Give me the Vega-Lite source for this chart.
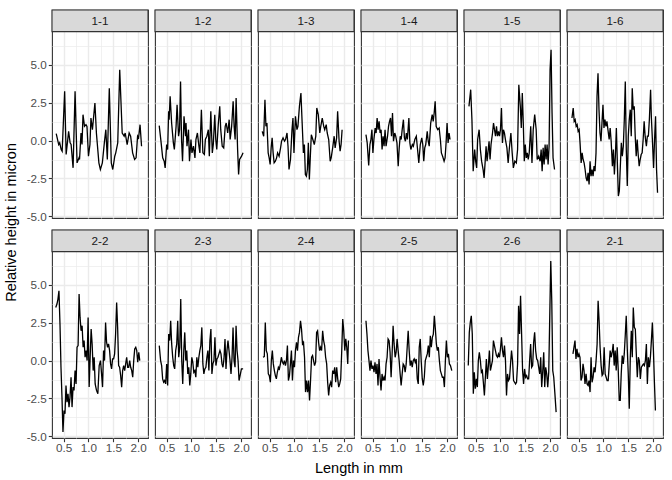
{
"$schema": "https://vega.github.io/schema/vega-lite/v6.json",
"background": "white",
"padding": {"left": 4, "top": 8, "right": 8, "bottom": 2},
"title": {"text": "Relative height in micron", "orient": "left", "anchor": "middle", "fontSize": 14.5, "fontWeight": "normal", "font": "Liberation Sans", "color": "#000000", "offset": 6, "dx": 20},
"data": {"values": [
{"p":"1-1","x":0.35,"y":0.46},{"p":"1-1","x":0.40,"y":-0.26},{"p":"1-1","x":0.42,"y":-0.15},{"p":"1-1","x":0.45,"y":-0.59},{"p":"1-1","x":0.47,"y":-0.70},{"p":"1-1","x":0.52,"y":3.25},{"p":"1-1","x":0.55,"y":-0.92},{"p":"1-1","x":0.60,"y":0.61},{"p":"1-1","x":0.63,"y":-0.15},{"p":"1-1","x":0.65,"y":-0.26},{"p":"1-1","x":0.69,"y":-1.80},{"p":"1-1","x":0.73,"y":3.25},{"p":"1-1","x":0.77,"y":-1.47},{"p":"1-1","x":0.81,"y":-1.14},{"p":"1-1","x":0.82,"y":-1.25},{"p":"1-1","x":0.85,"y":0.50},{"p":"1-1","x":0.87,"y":-0.26},{"p":"1-1","x":0.89,"y":1.71},{"p":"1-1","x":0.92,"y":0.94},{"p":"1-1","x":0.95,"y":1.05},{"p":"1-1","x":0.97,"y":0.94},{"p":"1-1","x":1.00,"y":-1.03},{"p":"1-1","x":1.03,"y":-0.26},{"p":"1-1","x":1.05,"y":1.49},{"p":"1-1","x":1.08,"y":0.72},{"p":"1-1","x":1.13,"y":2.48},{"p":"1-1","x":1.16,"y":0.50},{"p":"1-1","x":1.21,"y":-1.47},{"p":"1-1","x":1.24,"y":-1.91},{"p":"1-1","x":1.28,"y":-1.47},{"p":"1-1","x":1.32,"y":-0.15},{"p":"1-1","x":1.35,"y":0.72},{"p":"1-1","x":1.38,"y":-1.25},{"p":"1-1","x":1.42,"y":3.46},{"p":"1-1","x":1.46,"y":-1.47},{"p":"1-1","x":1.49,"y":-1.91},{"p":"1-1","x":1.53,"y":-1.03},{"p":"1-1","x":1.55,"y":-0.81},{"p":"1-1","x":1.59,"y":-0.15},{"p":"1-1","x":1.63,"y":4.67},{"p":"1-1","x":1.68,"y":0.50},{"p":"1-1","x":1.72,"y":0.29},{"p":"1-1","x":1.74,"y":0.50},{"p":"1-1","x":1.78,"y":-0.26},{"p":"1-1","x":1.82,"y":0.50},{"p":"1-1","x":1.85,"y":0.29},{"p":"1-1","x":1.89,"y":-0.81},{"p":"1-1","x":1.93,"y":-1.25},{"p":"1-1","x":1.96,"y":-1.14},{"p":"1-1","x":1.99,"y":0.29},{"p":"1-1","x":2.01,"y":0.18},{"p":"1-1","x":2.04,"y":1.05},{"p":"1-1","x":2.07,"y":-0.37},
{"p":"1-2","x":0.35,"y":0.99},{"p":"1-2","x":0.385,"y":-0.04},{"p":"1-2","x":0.42,"y":-1.14},{"p":"1-2","x":0.45,"y":-1.36},{"p":"1-2","x":0.47,"y":-1.80},{"p":"1-2","x":0.50,"y":-0.26},{"p":"1-2","x":0.52,"y":-0.59},{"p":"1-2","x":0.54,"y":1.93},{"p":"1-2","x":0.55,"y":1.38},{"p":"1-2","x":0.57,"y":2.92},{"p":"1-2","x":0.60,"y":1.16},{"p":"1-2","x":0.635,"y":-0.15},{"p":"1-2","x":0.655,"y":-0.59},{"p":"1-2","x":0.69,"y":0.94},{"p":"1-2","x":0.71,"y":2.37},{"p":"1-2","x":0.74,"y":0.29},{"p":"1-2","x":0.76,"y":0.72},{"p":"1-2","x":0.78,"y":3.90},{"p":"1-2","x":0.80,"y":0.07},{"p":"1-2","x":0.82,"y":-1.36},{"p":"1-2","x":0.85,"y":1.60},{"p":"1-2","x":0.88,"y":0.29},{"p":"1-2","x":0.89,"y":1.16},{"p":"1-2","x":0.91,"y":-0.37},{"p":"1-2","x":0.94,"y":0.72},{"p":"1-2","x":0.96,"y":-1.36},{"p":"1-2","x":0.99,"y":0.07},{"p":"1-2","x":1.01,"y":-0.81},{"p":"1-2","x":1.04,"y":-0.37},{"p":"1-2","x":1.07,"y":-1.14},{"p":"1-2","x":1.09,"y":0.07},{"p":"1-2","x":1.12,"y":0.50},{"p":"1-2","x":1.15,"y":-0.37},{"p":"1-2","x":1.17,"y":-0.81},{"p":"1-2","x":1.20,"y":2.04},{"p":"1-2","x":1.23,"y":-0.81},{"p":"1-2","x":1.26,"y":-0.92},{"p":"1-2","x":1.28,"y":0.07},{"p":"1-2","x":1.31,"y":0.29},{"p":"1-2","x":1.34,"y":0.72},{"p":"1-2","x":1.36,"y":-1.03},{"p":"1-2","x":1.39,"y":1.93},{"p":"1-2","x":1.42,"y":-0.81},{"p":"1-2","x":1.44,"y":-0.26},{"p":"1-2","x":1.47,"y":1.71},{"p":"1-2","x":1.49,"y":0.07},{"p":"1-2","x":1.51,"y":-0.59},{"p":"1-2","x":1.54,"y":1.05},{"p":"1-2","x":1.57,"y":2.26},{"p":"1-2","x":1.59,"y":0.72},{"p":"1-2","x":1.62,"y":-0.37},{"p":"1-2","x":1.65,"y":-0.48},{"p":"1-2","x":1.68,"y":0.94},{"p":"1-2","x":1.70,"y":1.16},{"p":"1-2","x":1.73,"y":0.50},{"p":"1-2","x":1.76,"y":1.38},{"p":"1-2","x":1.78,"y":0.07},{"p":"1-2","x":1.81,"y":0.94},{"p":"1-2","x":1.84,"y":2.59},{"p":"1-2","x":1.86,"y":0.94},{"p":"1-2","x":1.88,"y":0.07},{"p":"1-2","x":1.90,"y":2.81},{"p":"1-2","x":1.93,"y":-0.59},{"p":"1-2","x":1.95,"y":-2.24},{"p":"1-2","x":1.97,"y":-1.25},{"p":"1-2","x":2.01,"y":-1.03},{"p":"1-2","x":2.04,"y":-0.81},
{"p":"1-3","x":0.35,"y":0.61},{"p":"1-3","x":0.38,"y":0.29},{"p":"1-3","x":0.405,"y":2.70},{"p":"1-3","x":0.425,"y":0.94},{"p":"1-3","x":0.445,"y":1.16},{"p":"1-3","x":0.47,"y":-0.81},{"p":"1-3","x":0.49,"y":-1.14},{"p":"1-3","x":0.51,"y":-1.58},{"p":"1-3","x":0.53,"y":-0.48},{"p":"1-3","x":0.55,"y":0.18},{"p":"1-3","x":0.57,"y":-0.81},{"p":"1-3","x":0.59,"y":-1.47},{"p":"1-3","x":0.615,"y":-1.36},{"p":"1-3","x":0.64,"y":-1.14},{"p":"1-3","x":0.66,"y":-0.81},{"p":"1-3","x":0.69,"y":-1.03},{"p":"1-3","x":0.72,"y":-0.48},{"p":"1-3","x":0.74,"y":-0.04},{"p":"1-3","x":0.77,"y":0.18},{"p":"1-3","x":0.80,"y":-0.04},{"p":"1-3","x":0.82,"y":0.07},{"p":"1-3","x":0.85,"y":0.50},{"p":"1-3","x":0.87,"y":-0.37},{"p":"1-3","x":0.89,"y":-1.91},{"p":"1-3","x":0.92,"y":-1.25},{"p":"1-3","x":0.95,"y":0.72},{"p":"1-3","x":0.97,"y":1.49},{"p":"1-3","x":0.99,"y":-0.81},{"p":"1-3","x":1.02,"y":1.60},{"p":"1-3","x":1.05,"y":0.72},{"p":"1-3","x":1.07,"y":0.94},{"p":"1-3","x":1.10,"y":2.26},{"p":"1-3","x":1.13,"y":3.14},{"p":"1-3","x":1.155,"y":1.16},{"p":"1-3","x":1.18,"y":-0.81},{"p":"1-3","x":1.20,"y":-0.26},{"p":"1-3","x":1.22,"y":-2.24},{"p":"1-3","x":1.24,"y":-2.35},{"p":"1-3","x":1.26,"y":-1.91},{"p":"1-3","x":1.28,"y":-0.15},{"p":"1-3","x":1.30,"y":-2.57},{"p":"1-3","x":1.32,"y":-1.03},{"p":"1-3","x":1.34,"y":0.39},{"p":"1-3","x":1.37,"y":0.07},{"p":"1-3","x":1.40,"y":-0.26},{"p":"1-3","x":1.43,"y":0.29},{"p":"1-3","x":1.45,"y":2.15},{"p":"1-3","x":1.48,"y":1.71},{"p":"1-3","x":1.51,"y":0.50},{"p":"1-3","x":1.53,"y":0.94},{"p":"1-3","x":1.56,"y":1.49},{"p":"1-3","x":1.59,"y":0.94},{"p":"1-3","x":1.61,"y":0.72},{"p":"1-3","x":1.64,"y":1.05},{"p":"1-3","x":1.66,"y":0.50},{"p":"1-3","x":1.69,"y":0.07},{"p":"1-3","x":1.72,"y":-1.36},{"p":"1-3","x":1.74,"y":-1.14},{"p":"1-3","x":1.77,"y":-0.48},{"p":"1-3","x":1.80,"y":0.29},{"p":"1-3","x":1.82,"y":-0.48},{"p":"1-3","x":1.85,"y":0.18},{"p":"1-3","x":1.87,"y":1.93},{"p":"1-3","x":1.90,"y":-0.04},{"p":"1-3","x":1.92,"y":-0.70},{"p":"1-3","x":1.94,"y":-0.26},{"p":"1-3","x":1.96,"y":0.72},
{"p":"1-4","x":0.365,"y":0.39},{"p":"1-4","x":0.39,"y":-0.15},{"p":"1-4","x":0.42,"y":-1.64},{"p":"1-4","x":0.445,"y":-0.26},{"p":"1-4","x":0.465,"y":0.07},{"p":"1-4","x":0.485,"y":0.72},{"p":"1-4","x":0.505,"y":-0.81},{"p":"1-4","x":0.525,"y":0.07},{"p":"1-4","x":0.55,"y":0.83},{"p":"1-4","x":0.57,"y":0.50},{"p":"1-4","x":0.59,"y":1.49},{"p":"1-4","x":0.61,"y":0.72},{"p":"1-4","x":0.63,"y":1.27},{"p":"1-4","x":0.65,"y":0.50},{"p":"1-4","x":0.67,"y":0.72},{"p":"1-4","x":0.69,"y":-0.59},{"p":"1-4","x":0.71,"y":0.29},{"p":"1-4","x":0.73,"y":-0.37},{"p":"1-4","x":0.75,"y":0.72},{"p":"1-4","x":0.77,"y":-0.37},{"p":"1-4","x":0.80,"y":0.29},{"p":"1-4","x":0.82,"y":0.94},{"p":"1-4","x":0.84,"y":1.27},{"p":"1-4","x":0.86,"y":1.49},{"p":"1-4","x":0.88,"y":0.29},{"p":"1-4","x":0.90,"y":1.82},{"p":"1-4","x":0.92,"y":-0.04},{"p":"1-4","x":0.945,"y":0.50},{"p":"1-4","x":0.965,"y":0.29},{"p":"1-4","x":0.99,"y":-0.15},{"p":"1-4","x":1.015,"y":-1.69},{"p":"1-4","x":1.035,"y":-0.48},{"p":"1-4","x":1.055,"y":0.29},{"p":"1-4","x":1.075,"y":0.07},{"p":"1-4","x":1.095,"y":0.72},{"p":"1-4","x":1.12,"y":1.38},{"p":"1-4","x":1.14,"y":0.18},{"p":"1-4","x":1.16,"y":-0.04},{"p":"1-4","x":1.18,"y":0.50},{"p":"1-4","x":1.20,"y":0.07},{"p":"1-4","x":1.23,"y":1.49},{"p":"1-4","x":1.25,"y":-0.15},{"p":"1-4","x":1.27,"y":-0.59},{"p":"1-4","x":1.30,"y":-0.26},{"p":"1-4","x":1.32,"y":-0.37},{"p":"1-4","x":1.35,"y":0.07},{"p":"1-4","x":1.38,"y":0.29},{"p":"1-4","x":1.405,"y":-0.59},{"p":"1-4","x":1.43,"y":-1.47},{"p":"1-4","x":1.46,"y":-0.26},{"p":"1-4","x":1.49,"y":0.18},{"p":"1-4","x":1.51,"y":-0.26},{"p":"1-4","x":1.53,"y":-1.36},{"p":"1-4","x":1.55,"y":-0.48},{"p":"1-4","x":1.57,"y":-0.26},{"p":"1-4","x":1.60,"y":0.61},{"p":"1-4","x":1.62,"y":-0.04},{"p":"1-4","x":1.64,"y":-0.37},{"p":"1-4","x":1.67,"y":1.16},{"p":"1-4","x":1.70,"y":1.71},{"p":"1-4","x":1.72,"y":1.27},{"p":"1-4","x":1.74,"y":1.82},{"p":"1-4","x":1.76,"y":2.59},{"p":"1-4","x":1.78,"y":0.94},{"p":"1-4","x":1.81,"y":0.72},{"p":"1-4","x":1.84,"y":0.83},{"p":"1-4","x":1.865,"y":0.07},{"p":"1-4","x":1.885,"y":-0.81},{"p":"1-4","x":1.91,"y":-1.03},{"p":"1-4","x":1.94,"y":-1.36},{"p":"1-4","x":1.96,"y":-1.14},{"p":"1-4","x":1.98,"y":-0.15},{"p":"1-4","x":2.00,"y":1.16},{"p":"1-4","x":2.02,"y":-0.15},{"p":"1-4","x":2.04,"y":0.50},{"p":"1-4","x":2.06,"y":0.07},
{"p":"1-5","x":0.365,"y":2.26},{"p":"1-5","x":0.40,"y":3.36},{"p":"1-5","x":0.425,"y":1.38},{"p":"1-5","x":0.45,"y":-2.02},{"p":"1-5","x":0.48,"y":-0.59},{"p":"1-5","x":0.50,"y":-1.36},{"p":"1-5","x":0.52,"y":-1.80},{"p":"1-5","x":0.54,"y":0.07},{"p":"1-5","x":0.57,"y":0.72},{"p":"1-5","x":0.595,"y":-0.59},{"p":"1-5","x":0.62,"y":-1.36},{"p":"1-5","x":0.65,"y":-1.91},{"p":"1-5","x":0.67,"y":-2.46},{"p":"1-5","x":0.69,"y":-1.47},{"p":"1-5","x":0.71,"y":-0.37},{"p":"1-5","x":0.73,"y":-1.36},{"p":"1-5","x":0.75,"y":-0.70},{"p":"1-5","x":0.77,"y":-0.04},{"p":"1-5","x":0.79,"y":-1.25},{"p":"1-5","x":0.81,"y":-0.26},{"p":"1-5","x":0.84,"y":0.50},{"p":"1-5","x":0.86,"y":1.16},{"p":"1-5","x":0.88,"y":0.72},{"p":"1-5","x":0.90,"y":0.29},{"p":"1-5","x":0.92,"y":0.94},{"p":"1-5","x":0.94,"y":0.29},{"p":"1-5","x":0.96,"y":0.61},{"p":"1-5","x":0.98,"y":0.29},{"p":"1-5","x":1.00,"y":0.72},{"p":"1-5","x":1.02,"y":2.15},{"p":"1-5","x":1.04,"y":-0.15},{"p":"1-5","x":1.06,"y":0.72},{"p":"1-5","x":1.08,"y":0.50},{"p":"1-5","x":1.10,"y":0.07},{"p":"1-5","x":1.13,"y":-0.48},{"p":"1-5","x":1.155,"y":-1.47},{"p":"1-5","x":1.18,"y":-0.48},{"p":"1-5","x":1.21,"y":0.50},{"p":"1-5","x":1.236,"y":-0.81},{"p":"1-5","x":1.26,"y":-1.80},{"p":"1-5","x":1.29,"y":-1.36},{"p":"1-5","x":1.32,"y":-1.47},{"p":"1-5","x":1.345,"y":-0.59},{"p":"1-5","x":1.37,"y":3.68},{"p":"1-5","x":1.40,"y":2.26},{"p":"1-5","x":1.42,"y":0.83},{"p":"1-5","x":1.44,"y":3.14},{"p":"1-5","x":1.46,"y":1.16},{"p":"1-5","x":1.48,"y":-1.36},{"p":"1-5","x":1.50,"y":-0.26},{"p":"1-5","x":1.52,"y":-1.14},{"p":"1-5","x":1.54,"y":-0.81},{"p":"1-5","x":1.56,"y":-1.25},{"p":"1-5","x":1.58,"y":-0.81},{"p":"1-5","x":1.61,"y":0.94},{"p":"1-5","x":1.635,"y":-1.47},{"p":"1-5","x":1.66,"y":0.72},{"p":"1-5","x":1.69,"y":1.71},{"p":"1-5","x":1.72,"y":0.72},{"p":"1-5","x":1.74,"y":-1.25},{"p":"1-5","x":1.77,"y":-1.03},{"p":"1-5","x":1.80,"y":-1.36},{"p":"1-5","x":1.82,"y":-0.59},{"p":"1-5","x":1.84,"y":-2.02},{"p":"1-5","x":1.86,"y":-0.48},{"p":"1-5","x":1.88,"y":-1.58},{"p":"1-5","x":1.90,"y":-0.26},{"p":"1-5","x":1.92,"y":-1.25},{"p":"1-5","x":1.94,"y":-0.26},{"p":"1-5","x":1.96,"y":-1.58},{"p":"1-5","x":1.98,"y":-0.37},{"p":"1-5","x":2.00,"y":4.67},{"p":"1-5","x":2.02,"y":5.99},{"p":"1-5","x":2.04,"y":1.82},{"p":"1-5","x":2.06,"y":-1.14},{"p":"1-5","x":2.09,"y":-1.91},
{"p":"1-6","x":0.365,"y":1.49},{"p":"1-6","x":0.39,"y":2.15},{"p":"1-6","x":0.41,"y":1.27},{"p":"1-6","x":0.43,"y":1.38},{"p":"1-6","x":0.45,"y":0.94},{"p":"1-6","x":0.47,"y":1.05},{"p":"1-6","x":0.49,"y":0.61},{"p":"1-6","x":0.51,"y":0.72},{"p":"1-6","x":0.53,"y":-0.26},{"p":"1-6","x":0.55,"y":-1.47},{"p":"1-6","x":0.57,"y":-0.81},{"p":"1-6","x":0.59,"y":-1.25},{"p":"1-6","x":0.61,"y":-1.47},{"p":"1-6","x":0.63,"y":-1.91},{"p":"1-6","x":0.65,"y":-2.46},{"p":"1-6","x":0.67,"y":-2.68},{"p":"1-6","x":0.69,"y":-2.13},{"p":"1-6","x":0.71,"y":-2.89},{"p":"1-6","x":0.73,"y":-1.36},{"p":"1-6","x":0.75,"y":-2.35},{"p":"1-6","x":0.77,"y":-1.91},{"p":"1-6","x":0.79,"y":-2.35},{"p":"1-6","x":0.81,"y":-1.69},{"p":"1-6","x":0.83,"y":-2.02},{"p":"1-6","x":0.85,"y":-0.81},{"p":"1-6","x":0.87,"y":2.92},{"p":"1-6","x":0.89,"y":4.45},{"p":"1-6","x":0.91,"y":2.04},{"p":"1-6","x":0.93,"y":0.50},{"p":"1-6","x":0.95,"y":-0.04},{"p":"1-6","x":0.97,"y":1.16},{"p":"1-6","x":0.99,"y":2.37},{"p":"1-6","x":1.01,"y":0.83},{"p":"1-6","x":1.03,"y":1.38},{"p":"1-6","x":1.05,"y":0.94},{"p":"1-6","x":1.07,"y":1.27},{"p":"1-6","x":1.09,"y":0.72},{"p":"1-6","x":1.115,"y":0.07},{"p":"1-6","x":1.135,"y":0.83},{"p":"1-6","x":1.155,"y":-0.04},{"p":"1-6","x":1.18,"y":-1.69},{"p":"1-6","x":1.20,"y":-0.59},{"p":"1-6","x":1.22,"y":-2.24},{"p":"1-6","x":1.24,"y":-1.03},{"p":"1-6","x":1.26,"y":0.83},{"p":"1-6","x":1.28,"y":-1.47},{"p":"1-6","x":1.30,"y":-3.66},{"p":"1-6","x":1.32,"y":-3.33},{"p":"1-6","x":1.34,"y":-1.69},{"p":"1-6","x":1.36,"y":-0.15},{"p":"1-6","x":1.38,"y":-1.03},{"p":"1-6","x":1.40,"y":-0.37},{"p":"1-6","x":1.42,"y":1.38},{"p":"1-6","x":1.44,"y":3.90},{"p":"1-6","x":1.46,"y":-0.59},{"p":"1-6","x":1.48,"y":-3.00},{"p":"1-6","x":1.50,"y":0.29},{"p":"1-6","x":1.52,"y":1.38},{"p":"1-6","x":1.54,"y":2.04},{"p":"1-6","x":1.56,"y":0.29},{"p":"1-6","x":1.58,"y":3.46},{"p":"1-6","x":1.60,"y":2.04},{"p":"1-6","x":1.62,"y":2.26},{"p":"1-6","x":1.64,"y":0.29},{"p":"1-6","x":1.66,"y":-1.03},{"p":"1-6","x":1.68,"y":0.07},{"p":"1-6","x":1.70,"y":-0.92},{"p":"1-6","x":1.72,"y":-1.69},{"p":"1-6","x":1.74,"y":-1.25},{"p":"1-6","x":1.76,"y":-0.92},{"p":"1-6","x":1.78,"y":-0.81},{"p":"1-6","x":1.80,"y":0.07},{"p":"1-6","x":1.82,"y":1.27},{"p":"1-6","x":1.84,"y":0.29},{"p":"1-6","x":1.865,"y":-0.37},{"p":"1-6","x":1.885,"y":0.29},{"p":"1-6","x":1.905,"y":0.29},{"p":"1-6","x":1.925,"y":1.38},{"p":"1-6","x":1.95,"y":3.36},{"p":"1-6","x":1.966,"y":1.49},{"p":"1-6","x":1.986,"y":0.07},{"p":"1-6","x":2.01,"y":-1.80},{"p":"1-6","x":2.03,"y":0.07},{"p":"1-6","x":2.05,"y":1.60},{"p":"1-6","x":2.07,"y":-1.91},{"p":"1-6","x":2.09,"y":-3.44},
{"p":"2-2","x":0.34,"y":3.51},{"p":"2-2","x":0.365,"y":3.73},{"p":"2-2","x":0.385,"y":4.06},{"p":"2-2","x":0.405,"y":4.61},{"p":"2-2","x":0.426,"y":2.41},{"p":"2-2","x":0.446,"y":-0.44},{"p":"2-2","x":0.466,"y":-2.41},{"p":"2-2","x":0.486,"y":-4.71},{"p":"2-2","x":0.507,"y":-3.29},{"p":"2-2","x":0.527,"y":-3.51},{"p":"2-2","x":0.547,"y":-1.64},{"p":"2-2","x":0.568,"y":-2.74},{"p":"2-2","x":0.588,"y":-2.19},{"p":"2-2","x":0.608,"y":-3.07},{"p":"2-2","x":0.628,"y":-2.41},{"p":"2-2","x":0.649,"y":-1.10},{"p":"2-2","x":0.669,"y":-3.07},{"p":"2-2","x":0.689,"y":-1.75},{"p":"2-2","x":0.709,"y":-1.97},{"p":"2-2","x":0.73,"y":-0.66},{"p":"2-2","x":0.75,"y":-1.54},{"p":"2-2","x":0.77,"y":0.88},{"p":"2-2","x":0.791,"y":0.99},{"p":"2-2","x":0.811,"y":4.39},{"p":"2-2","x":0.831,"y":2.85},{"p":"2-2","x":0.851,"y":1.97},{"p":"2-2","x":0.872,"y":2.30},{"p":"2-2","x":0.892,"y":0.88},{"p":"2-2","x":0.912,"y":1.32},{"p":"2-2","x":0.932,"y":0.22},{"p":"2-2","x":0.953,"y":0.66},{"p":"2-2","x":0.973,"y":0.00},{"p":"2-2","x":0.993,"y":2.85},{"p":"2-2","x":1.014,"y":-1.75},{"p":"2-2","x":1.034,"y":0.22},{"p":"2-2","x":1.054,"y":2.08},{"p":"2-2","x":1.074,"y":1.10},{"p":"2-2","x":1.095,"y":-0.66},{"p":"2-2","x":1.115,"y":0.22},{"p":"2-2","x":1.135,"y":-1.54},{"p":"2-2","x":1.162,"y":-1.97},{"p":"2-2","x":1.189,"y":-2.19},{"p":"2-2","x":1.216,"y":-0.33},{"p":"2-2","x":1.243,"y":0.00},{"p":"2-2","x":1.264,"y":-0.88},{"p":"2-2","x":1.284,"y":-1.75},{"p":"2-2","x":1.304,"y":0.66},{"p":"2-2","x":1.324,"y":0.00},{"p":"2-2","x":1.345,"y":2.52},{"p":"2-2","x":1.365,"y":1.21},{"p":"2-2","x":1.385,"y":0.88},{"p":"2-2","x":1.405,"y":1.10},{"p":"2-2","x":1.426,"y":0.66},{"p":"2-2","x":1.446,"y":-0.22},{"p":"2-2","x":1.466,"y":-0.55},{"p":"2-2","x":1.486,"y":0.11},{"p":"2-2","x":1.507,"y":0.11},{"p":"2-2","x":1.527,"y":0.44},{"p":"2-2","x":1.547,"y":1.75},{"p":"2-2","x":1.568,"y":3.84},{"p":"2-2","x":1.588,"y":2.19},{"p":"2-2","x":1.608,"y":-0.33},{"p":"2-2","x":1.628,"y":-0.44},{"p":"2-2","x":1.649,"y":-0.99},{"p":"2-2","x":1.669,"y":-1.75},{"p":"2-2","x":1.689,"y":-0.66},{"p":"2-2","x":1.709,"y":-0.33},{"p":"2-2","x":1.730,"y":-0.66},{"p":"2-2","x":1.750,"y":-0.22},{"p":"2-2","x":1.770,"y":0.22},{"p":"2-2","x":1.791,"y":-0.44},{"p":"2-2","x":1.811,"y":-0.44},{"p":"2-2","x":1.831,"y":0.00},{"p":"2-2","x":1.851,"y":-0.44},{"p":"2-2","x":1.872,"y":-0.66},{"p":"2-2","x":1.892,"y":-1.10},{"p":"2-2","x":1.912,"y":0.00},{"p":"2-2","x":1.932,"y":0.77},{"p":"2-2","x":1.953,"y":0.88},{"p":"2-2","x":1.973,"y":0.66},{"p":"2-2","x":1.993,"y":-0.11},{"p":"2-2","x":2.014,"y":0.55},{"p":"2-2","x":2.034,"y":0.00},
{"p":"2-3","x":0.351,"y":0.99},{"p":"2-3","x":0.378,"y":0.00},{"p":"2-3","x":0.399,"y":-0.33},{"p":"2-3","x":0.419,"y":-1.21},{"p":"2-3","x":0.439,"y":-1.43},{"p":"2-3","x":0.459,"y":-1.32},{"p":"2-3","x":0.48,"y":-1.54},{"p":"2-3","x":0.5,"y":-0.22},{"p":"2-3","x":0.52,"y":-1.64},{"p":"2-3","x":0.541,"y":1.75},{"p":"2-3","x":0.561,"y":1.32},{"p":"2-3","x":0.581,"y":2.63},{"p":"2-3","x":0.601,"y":1.10},{"p":"2-3","x":0.622,"y":0.22},{"p":"2-3","x":0.642,"y":-0.33},{"p":"2-3","x":0.662,"y":-0.55},{"p":"2-3","x":0.682,"y":0.66},{"p":"2-3","x":0.703,"y":1.10},{"p":"2-3","x":0.723,"y":2.63},{"p":"2-3","x":0.743,"y":0.22},{"p":"2-3","x":0.764,"y":0.88},{"p":"2-3","x":0.784,"y":4.06},{"p":"2-3","x":0.804,"y":0.00},{"p":"2-3","x":0.824,"y":-1.54},{"p":"2-3","x":0.845,"y":0.66},{"p":"2-3","x":0.865,"y":1.86},{"p":"2-3","x":0.885,"y":0.00},{"p":"2-3","x":0.905,"y":0.66},{"p":"2-3","x":0.926,"y":-0.88},{"p":"2-3","x":0.946,"y":-0.44},{"p":"2-3","x":0.966,"y":-1.64},{"p":"2-3","x":0.986,"y":-0.88},{"p":"2-3","x":1.007,"y":0.22},{"p":"2-3","x":1.027,"y":-0.11},{"p":"2-3","x":1.047,"y":-0.77},{"p":"2-3","x":1.068,"y":-0.66},{"p":"2-3","x":1.088,"y":-1.10},{"p":"2-3","x":1.108,"y":0.22},{"p":"2-3","x":1.128,"y":-0.44},{"p":"2-3","x":1.149,"y":0.22},{"p":"2-3","x":1.169,"y":0.66},{"p":"2-3","x":1.189,"y":0.99},{"p":"2-3","x":1.209,"y":2.19},{"p":"2-3","x":1.23,"y":-0.22},{"p":"2-3","x":1.25,"y":-0.88},{"p":"2-3","x":1.27,"y":-0.55},{"p":"2-3","x":1.291,"y":-0.44},{"p":"2-3","x":1.311,"y":0.22},{"p":"2-3","x":1.331,"y":0.66},{"p":"2-3","x":1.351,"y":-0.66},{"p":"2-3","x":1.372,"y":1.32},{"p":"2-3","x":1.392,"y":2.08},{"p":"2-3","x":1.412,"y":-0.88},{"p":"2-3","x":1.432,"y":-0.22},{"p":"2-3","x":1.453,"y":0.00},{"p":"2-3","x":1.473,"y":1.54},{"p":"2-3","x":1.493,"y":-0.33},{"p":"2-3","x":1.514,"y":0.11},{"p":"2-3","x":1.534,"y":0.22},{"p":"2-3","x":1.554,"y":0.44},{"p":"2-3","x":1.574,"y":0.66},{"p":"2-3","x":1.595,"y":0.44},{"p":"2-3","x":1.615,"y":-0.22},{"p":"2-3","x":1.635,"y":-0.44},{"p":"2-3","x":1.655,"y":0.11},{"p":"2-3","x":1.676,"y":1.43},{"p":"2-3","x":1.696,"y":-0.55},{"p":"2-3","x":1.716,"y":0.66},{"p":"2-3","x":1.736,"y":1.32},{"p":"2-3","x":1.757,"y":0.66},{"p":"2-3","x":1.777,"y":0.00},{"p":"2-3","x":1.797,"y":-0.88},{"p":"2-3","x":1.818,"y":0.22},{"p":"2-3","x":1.838,"y":2.19},{"p":"2-3","x":1.858,"y":0.00},{"p":"2-3","x":1.878,"y":-0.44},{"p":"2-3","x":1.899,"y":2.30},{"p":"2-3","x":1.919,"y":0.66},{"p":"2-3","x":1.939,"y":0.00},{"p":"2-3","x":1.959,"y":-1.32},{"p":"2-3","x":1.98,"y":-0.99},{"p":"2-3","x":2.007,"y":-0.55},{"p":"2-3","x":2.041,"y":-0.55},
{"p":"2-4","x":0.365,"y":0.22},{"p":"2-4","x":0.392,"y":0.26},{"p":"2-4","x":0.412,"y":2.52},{"p":"2-4","x":0.432,"y":0.66},{"p":"2-4","x":0.453,"y":0.44},{"p":"2-4","x":0.473,"y":-0.88},{"p":"2-4","x":0.493,"y":-0.99},{"p":"2-4","x":0.514,"y":-1.43},{"p":"2-4","x":0.534,"y":0.00},{"p":"2-4","x":0.554,"y":0.66},{"p":"2-4","x":0.574,"y":-0.22},{"p":"2-4","x":0.595,"y":-0.66},{"p":"2-4","x":0.615,"y":-0.99},{"p":"2-4","x":0.635,"y":-1.21},{"p":"2-4","x":0.655,"y":-0.77},{"p":"2-4","x":0.676,"y":-0.44},{"p":"2-4","x":0.696,"y":-0.55},{"p":"2-4","x":0.716,"y":-0.22},{"p":"2-4","x":0.736,"y":0.22},{"p":"2-4","x":0.757,"y":-0.11},{"p":"2-4","x":0.777,"y":-0.22},{"p":"2-4","x":0.797,"y":0.00},{"p":"2-4","x":0.818,"y":-0.33},{"p":"2-4","x":0.838,"y":0.00},{"p":"2-4","x":0.858,"y":0.99},{"p":"2-4","x":0.878,"y":-1.32},{"p":"2-4","x":0.899,"y":-0.99},{"p":"2-4","x":0.919,"y":-0.22},{"p":"2-4","x":0.939,"y":0.66},{"p":"2-4","x":0.959,"y":-1.32},{"p":"2-4","x":0.98,"y":0.00},{"p":"2-4","x":1.0,"y":-0.44},{"p":"2-4","x":1.02,"y":0.66},{"p":"2-4","x":1.041,"y":1.21},{"p":"2-4","x":1.061,"y":0.66},{"p":"2-4","x":1.081,"y":1.54},{"p":"2-4","x":1.101,"y":1.86},{"p":"2-4","x":1.122,"y":2.63},{"p":"2-4","x":1.142,"y":2.08},{"p":"2-4","x":1.162,"y":1.10},{"p":"2-4","x":1.182,"y":1.21},{"p":"2-4","x":1.203,"y":0.22},{"p":"2-4","x":1.223,"y":-2.08},{"p":"2-4","x":1.243,"y":-1.32},{"p":"2-4","x":1.264,"y":-2.08},{"p":"2-4","x":1.284,"y":-1.32},{"p":"2-4","x":1.304,"y":-2.63},{"p":"2-4","x":1.324,"y":-1.32},{"p":"2-4","x":1.345,"y":0.22},{"p":"2-4","x":1.365,"y":0.33},{"p":"2-4","x":1.385,"y":0.00},{"p":"2-4","x":1.405,"y":-0.33},{"p":"2-4","x":1.426,"y":-0.11},{"p":"2-4","x":1.446,"y":1.86},{"p":"2-4","x":1.466,"y":1.97},{"p":"2-4","x":1.486,"y":1.21},{"p":"2-4","x":1.507,"y":0.66},{"p":"2-4","x":1.527,"y":0.88},{"p":"2-4","x":1.547,"y":0.66},{"p":"2-4","x":1.568,"y":1.97},{"p":"2-4","x":1.588,"y":1.32},{"p":"2-4","x":1.608,"y":0.99},{"p":"2-4","x":1.628,"y":0.22},{"p":"2-4","x":1.649,"y":-0.22},{"p":"2-4","x":1.669,"y":-1.43},{"p":"2-4","x":1.689,"y":-2.30},{"p":"2-4","x":1.709,"y":-1.64},{"p":"2-4","x":1.73,"y":-1.43},{"p":"2-4","x":1.75,"y":-1.75},{"p":"2-4","x":1.77,"y":-0.66},{"p":"2-4","x":1.791,"y":-0.88},{"p":"2-4","x":1.811,"y":-0.44},{"p":"2-4","x":1.831,"y":-1.43},{"p":"2-4","x":1.851,"y":-0.44},{"p":"2-4","x":1.872,"y":-1.21},{"p":"2-4","x":1.892,"y":-1.75},{"p":"2-4","x":1.912,"y":-1.54},{"p":"2-4","x":1.932,"y":-1.21},{"p":"2-4","x":1.953,"y":0.66},{"p":"2-4","x":1.973,"y":2.74},{"p":"2-4","x":1.993,"y":1.97},{"p":"2-4","x":2.014,"y":0.66},{"p":"2-4","x":2.034,"y":1.43},{"p":"2-4","x":2.054,"y":0.88},{"p":"2-4","x":2.074,"y":-0.22},{"p":"2-4","x":2.088,"y":1.32},
{"p":"2-5","x":0.365,"y":2.63},{"p":"2-5","x":0.385,"y":1.75},{"p":"2-5","x":0.405,"y":0.66},{"p":"2-5","x":0.426,"y":0.00},{"p":"2-5","x":0.446,"y":-0.66},{"p":"2-5","x":0.466,"y":0.00},{"p":"2-5","x":0.486,"y":-0.55},{"p":"2-5","x":0.507,"y":-0.33},{"p":"2-5","x":0.527,"y":-0.77},{"p":"2-5","x":0.547,"y":-0.11},{"p":"2-5","x":0.568,"y":-0.88},{"p":"2-5","x":0.588,"y":-0.22},{"p":"2-5","x":0.608,"y":-1.64},{"p":"2-5","x":0.628,"y":0.11},{"p":"2-5","x":0.649,"y":-1.10},{"p":"2-5","x":0.669,"y":-1.97},{"p":"2-5","x":0.689,"y":-0.88},{"p":"2-5","x":0.709,"y":-1.32},{"p":"2-5","x":0.73,"y":-1.10},{"p":"2-5","x":0.75,"y":-1.32},{"p":"2-5","x":0.77,"y":-0.22},{"p":"2-5","x":0.791,"y":0.22},{"p":"2-5","x":0.811,"y":1.43},{"p":"2-5","x":0.831,"y":1.32},{"p":"2-5","x":0.851,"y":0.55},{"p":"2-5","x":0.872,"y":-1.10},{"p":"2-5","x":0.892,"y":0.44},{"p":"2-5","x":0.912,"y":2.30},{"p":"2-5","x":0.932,"y":1.10},{"p":"2-5","x":0.953,"y":0.22},{"p":"2-5","x":0.973,"y":0.55},{"p":"2-5","x":0.993,"y":1.43},{"p":"2-5","x":1.014,"y":0.66},{"p":"2-5","x":1.034,"y":0.00},{"p":"2-5","x":1.054,"y":-0.88},{"p":"2-5","x":1.074,"y":-1.64},{"p":"2-5","x":1.095,"y":-0.88},{"p":"2-5","x":1.115,"y":-0.22},{"p":"2-5","x":1.135,"y":-0.33},{"p":"2-5","x":1.155,"y":-0.77},{"p":"2-5","x":1.176,"y":-0.22},{"p":"2-5","x":1.196,"y":0.88},{"p":"2-5","x":1.216,"y":1.97},{"p":"2-5","x":1.236,"y":0.66},{"p":"2-5","x":1.257,"y":-0.33},{"p":"2-5","x":1.277,"y":0.00},{"p":"2-5","x":1.297,"y":-0.44},{"p":"2-5","x":1.318,"y":0.00},{"p":"2-5","x":1.338,"y":0.11},{"p":"2-5","x":1.358,"y":-0.11},{"p":"2-5","x":1.378,"y":0.11},{"p":"2-5","x":1.399,"y":-1.21},{"p":"2-5","x":1.419,"y":-1.54},{"p":"2-5","x":1.439,"y":0.88},{"p":"2-5","x":1.459,"y":1.43},{"p":"2-5","x":1.48,"y":-0.11},{"p":"2-5","x":1.5,"y":-1.21},{"p":"2-5","x":1.52,"y":-1.64},{"p":"2-5","x":1.541,"y":-1.10},{"p":"2-5","x":1.561,"y":0.00},{"p":"2-5","x":1.581,"y":0.22},{"p":"2-5","x":1.601,"y":0.44},{"p":"2-5","x":1.622,"y":0.99},{"p":"2-5","x":1.642,"y":0.22},{"p":"2-5","x":1.662,"y":1.64},{"p":"2-5","x":1.682,"y":0.88},{"p":"2-5","x":1.703,"y":1.54},{"p":"2-5","x":1.723,"y":1.75},{"p":"2-5","x":1.743,"y":2.96},{"p":"2-5","x":1.764,"y":2.08},{"p":"2-5","x":1.784,"y":1.10},{"p":"2-5","x":1.804,"y":0.66},{"p":"2-5","x":1.824,"y":0.88},{"p":"2-5","x":1.845,"y":0.00},{"p":"2-5","x":1.865,"y":-0.66},{"p":"2-5","x":1.885,"y":-0.88},{"p":"2-5","x":1.905,"y":-1.10},{"p":"2-5","x":1.926,"y":-1.10},{"p":"2-5","x":1.946,"y":-1.75},{"p":"2-5","x":1.966,"y":0.00},{"p":"2-5","x":1.986,"y":1.32},{"p":"2-5","x":2.007,"y":0.22},{"p":"2-5","x":2.027,"y":0.44},{"p":"2-5","x":2.047,"y":-0.22},{"p":"2-5","x":2.068,"y":-0.33},{"p":"2-5","x":2.095,"y":-0.66},
{"p":"2-6","x":0.351,"y":-0.33},{"p":"2-6","x":0.372,"y":1.86},{"p":"2-6","x":0.392,"y":2.52},{"p":"2-6","x":0.412,"y":2.96},{"p":"2-6","x":0.432,"y":1.75},{"p":"2-6","x":0.453,"y":-2.19},{"p":"2-6","x":0.473,"y":-0.77},{"p":"2-6","x":0.493,"y":-1.86},{"p":"2-6","x":0.514,"y":-1.21},{"p":"2-6","x":0.534,"y":-1.75},{"p":"2-6","x":0.554,"y":0.00},{"p":"2-6","x":0.574,"y":0.55},{"p":"2-6","x":0.595,"y":0.00},{"p":"2-6","x":0.615,"y":-0.77},{"p":"2-6","x":0.635,"y":-0.66},{"p":"2-6","x":0.655,"y":-1.43},{"p":"2-6","x":0.676,"y":-2.30},{"p":"2-6","x":0.696,"y":-1.10},{"p":"2-6","x":0.716,"y":0.11},{"p":"2-6","x":0.736,"y":-1.21},{"p":"2-6","x":0.757,"y":-0.33},{"p":"2-6","x":0.777,"y":0.66},{"p":"2-6","x":0.797,"y":-0.66},{"p":"2-6","x":0.818,"y":-0.33},{"p":"2-6","x":0.838,"y":0.00},{"p":"2-6","x":0.858,"y":1.32},{"p":"2-6","x":0.878,"y":0.99},{"p":"2-6","x":0.899,"y":0.66},{"p":"2-6","x":0.919,"y":0.33},{"p":"2-6","x":0.939,"y":0.22},{"p":"2-6","x":0.959,"y":0.44},{"p":"2-6","x":0.98,"y":0.22},{"p":"2-6","x":1.0,"y":0.77},{"p":"2-6","x":1.02,"y":1.54},{"p":"2-6","x":1.041,"y":0.66},{"p":"2-6","x":1.061,"y":0.22},{"p":"2-6","x":1.081,"y":0.99},{"p":"2-6","x":1.101,"y":0.00},{"p":"2-6","x":1.122,"y":-2.30},{"p":"2-6","x":1.142,"y":-0.88},{"p":"2-6","x":1.162,"y":-1.32},{"p":"2-6","x":1.182,"y":-1.21},{"p":"2-6","x":1.203,"y":-0.22},{"p":"2-6","x":1.223,"y":0.66},{"p":"2-6","x":1.243,"y":0.00},{"p":"2-6","x":1.264,"y":-1.32},{"p":"2-6","x":1.284,"y":-1.43},{"p":"2-6","x":1.304,"y":-1.54},{"p":"2-6","x":1.324,"y":-1.43},{"p":"2-6","x":1.345,"y":-0.22},{"p":"2-6","x":1.365,"y":3.62},{"p":"2-6","x":1.385,"y":1.75},{"p":"2-6","x":1.405,"y":4.28},{"p":"2-6","x":1.426,"y":1.75},{"p":"2-6","x":1.446,"y":-0.66},{"p":"2-6","x":1.466,"y":-1.54},{"p":"2-6","x":1.486,"y":-0.55},{"p":"2-6","x":1.507,"y":-1.10},{"p":"2-6","x":1.527,"y":-0.99},{"p":"2-6","x":1.547,"y":-1.21},{"p":"2-6","x":1.568,"y":-1.21},{"p":"2-6","x":1.588,"y":0.00},{"p":"2-6","x":1.608,"y":1.10},{"p":"2-6","x":1.628,"y":-0.44},{"p":"2-6","x":1.649,"y":-0.33},{"p":"2-6","x":1.669,"y":1.21},{"p":"2-6","x":1.689,"y":1.86},{"p":"2-6","x":1.709,"y":0.66},{"p":"2-6","x":1.73,"y":0.11},{"p":"2-6","x":1.75,"y":0.00},{"p":"2-6","x":1.77,"y":-0.44},{"p":"2-6","x":1.791,"y":-0.88},{"p":"2-6","x":1.811,"y":0.22},{"p":"2-6","x":1.831,"y":-1.75},{"p":"2-6","x":1.851,"y":-0.77},{"p":"2-6","x":1.872,"y":0.55},{"p":"2-6","x":1.892,"y":-1.75},{"p":"2-6","x":1.912,"y":-0.44},{"p":"2-6","x":1.932,"y":-0.88},{"p":"2-6","x":1.953,"y":-1.75},{"p":"2-6","x":1.973,"y":-0.77},{"p":"2-6","x":1.993,"y":2.85},{"p":"2-6","x":2.014,"y":6.58},{"p":"2-6","x":2.034,"y":3.95},{"p":"2-6","x":2.054,"y":-0.66},{"p":"2-6","x":2.074,"y":-1.10},{"p":"2-6","x":2.095,"y":-2.08},{"p":"2-6","x":2.122,"y":-3.40},
{"p":"2-1","x":0.385,"y":0.44},{"p":"2-1","x":0.405,"y":0.88},{"p":"2-1","x":0.426,"y":1.32},{"p":"2-1","x":0.446,"y":0.11},{"p":"2-1","x":0.466,"y":0.77},{"p":"2-1","x":0.486,"y":0.22},{"p":"2-1","x":0.507,"y":0.44},{"p":"2-1","x":0.527,"y":0.22},{"p":"2-1","x":0.547,"y":-1.32},{"p":"2-1","x":0.568,"y":-1.10},{"p":"2-1","x":0.588,"y":-0.22},{"p":"2-1","x":0.608,"y":-0.66},{"p":"2-1","x":0.628,"y":-1.54},{"p":"2-1","x":0.649,"y":-0.88},{"p":"2-1","x":0.669,"y":-1.54},{"p":"2-1","x":0.689,"y":-1.64},{"p":"2-1","x":0.709,"y":-1.32},{"p":"2-1","x":0.73,"y":-2.08},{"p":"2-1","x":0.75,"y":0.22},{"p":"2-1","x":0.77,"y":-1.43},{"p":"2-1","x":0.791,"y":-1.10},{"p":"2-1","x":0.811,"y":-0.44},{"p":"2-1","x":0.831,"y":-0.77},{"p":"2-1","x":0.851,"y":0.00},{"p":"2-1","x":0.872,"y":1.10},{"p":"2-1","x":0.892,"y":3.95},{"p":"2-1","x":0.912,"y":2.63},{"p":"2-1","x":0.932,"y":0.88},{"p":"2-1","x":0.953,"y":-0.33},{"p":"2-1","x":0.973,"y":-0.99},{"p":"2-1","x":0.993,"y":-0.88},{"p":"2-1","x":1.014,"y":0.88},{"p":"2-1","x":1.034,"y":-0.88},{"p":"2-1","x":1.054,"y":-1.10},{"p":"2-1","x":1.074,"y":-1.32},{"p":"2-1","x":1.095,"y":-1.32},{"p":"2-1","x":1.115,"y":-0.33},{"p":"2-1","x":1.135,"y":0.66},{"p":"2-1","x":1.155,"y":0.22},{"p":"2-1","x":1.176,"y":0.55},{"p":"2-1","x":1.196,"y":1.10},{"p":"2-1","x":1.216,"y":-0.33},{"p":"2-1","x":1.236,"y":0.66},{"p":"2-1","x":1.257,"y":-0.66},{"p":"2-1","x":1.277,"y":0.88},{"p":"2-1","x":1.297,"y":-0.55},{"p":"2-1","x":1.318,"y":-2.63},{"p":"2-1","x":1.338,"y":-2.63},{"p":"2-1","x":1.358,"y":-0.88},{"p":"2-1","x":1.378,"y":0.33},{"p":"2-1","x":1.399,"y":-0.22},{"p":"2-1","x":1.419,"y":0.44},{"p":"2-1","x":1.439,"y":1.64},{"p":"2-1","x":1.459,"y":2.96},{"p":"2-1","x":1.48,"y":0.77},{"p":"2-1","x":1.5,"y":-0.88},{"p":"2-1","x":1.52,"y":-3.18},{"p":"2-1","x":1.541,"y":0.22},{"p":"2-1","x":1.561,"y":1.97},{"p":"2-1","x":1.581,"y":0.22},{"p":"2-1","x":1.601,"y":3.51},{"p":"2-1","x":1.622,"y":2.19},{"p":"2-1","x":1.642,"y":2.08},{"p":"2-1","x":1.662,"y":0.44},{"p":"2-1","x":1.682,"y":-1.10},{"p":"2-1","x":1.703,"y":0.22},{"p":"2-1","x":1.723,"y":0.00},{"p":"2-1","x":1.743,"y":-1.21},{"p":"2-1","x":1.764,"y":-0.44},{"p":"2-1","x":1.784,"y":-0.33},{"p":"2-1","x":1.804,"y":-0.22},{"p":"2-1","x":1.824,"y":-0.33},{"p":"2-1","x":1.845,"y":0.00},{"p":"2-1","x":1.865,"y":1.10},{"p":"2-1","x":1.885,"y":-1.54},{"p":"2-1","x":1.905,"y":0.22},{"p":"2-1","x":1.926,"y":-0.44},{"p":"2-1","x":1.946,"y":0.22},{"p":"2-1","x":1.966,"y":1.32},{"p":"2-1","x":1.986,"y":2.52},{"p":"2-1","x":2.007,"y":0.66},{"p":"2-1","x":2.027,"y":-1.43},{"p":"2-1","x":2.047,"y":-3.29}
]},
"spacing": 4,
"vconcat": [
{"spacing": 3, "hconcat": [
{"width":96,"height":208,"layer":[
 {"transform":[{"filter":{"field":"p","equal":"1-1"}}],"mark":{"type":"line","color":"#000000","strokeWidth":1.3},"encoding":{"x":{"field":"x","type":"quantitative","scale":{"domain":[0.265,2.2],"nice":false,"zero":false},"axis":{"title":null,"values":[0.5,0.75,1,1.25,1.5,1.75,2],"domain":false,"labels":false,"ticks":false,"gridWidth":{"condition":{"test":"datum.value % 0.5 == 0","value":1.4},"value":0.7}}},"y":{"field":"y","type":"quantitative","scale":{"domain":[-5.11,8.62],"nice":false,"zero":false},"axis":{"title":null,"values":[-5,-3.75,-2.5,-1.25,0,1.25,2.5,3.75,5,6.25],"domain":false,"labelOverlap":false,"labelFlush":false,"labelExpr":"datum.value % 2.5 == 0 ? (datum.value < 0 ? '-' : '') + format(abs(datum.value), '.1f') : ''","tickColor":{"condition":{"test":"datum.value % 2.5 == 0","value":"#333333"},"value":"transparent"},"gridWidth":{"condition":{"test":"datum.value % 2.5 == 0","value":1.4},"value":0.7}}}}},
 {"data":{"values":[{"p":"1-1"}]},"mark":{"type":"rect","fill":"#D9D9D9","stroke":"#333333","strokeWidth":1.1},"encoding":{"x":{"datum":0.265,"axis":{"title":null,"values":[0.5,0.75,1,1.25,1.5,1.75,2],"domain":false,"labels":false,"ticks":false,"gridWidth":{"condition":{"test":"datum.value % 0.5 == 0","value":1.4},"value":0.7}}},"x2":{"datum":2.2},"y":{"datum":7.19,"axis":{"title":null,"values":[-5,-3.75,-2.5,-1.25,0,1.25,2.5,3.75,5,6.25],"domain":false,"labelOverlap":false,"labelFlush":false,"labelExpr":"datum.value % 2.5 == 0 ? (datum.value < 0 ? '-' : '') + format(abs(datum.value), '.1f') : ''","tickColor":{"condition":{"test":"datum.value % 2.5 == 0","value":"#333333"},"value":"transparent"},"gridWidth":{"condition":{"test":"datum.value % 2.5 == 0","value":1.4},"value":0.7}}},"y2":{"datum":8.62}}},
 {"data":{"values":[{"p":"1-1"}]},"mark":{"type":"text","fontSize":11.7,"color":"#1A1A1A","font":"Liberation Sans","baseline":"middle","align":"center"},"encoding":{"x":{"datum":1.2325,"axis":{"title":null,"values":[0.5,0.75,1,1.25,1.5,1.75,2],"domain":false,"labels":false,"ticks":false,"gridWidth":{"condition":{"test":"datum.value % 0.5 == 0","value":1.4},"value":0.7}}},"y":{"datum":7.9,"axis":{"title":null,"values":[-5,-3.75,-2.5,-1.25,0,1.25,2.5,3.75,5,6.25],"domain":false,"labelOverlap":false,"labelFlush":false,"labelExpr":"datum.value % 2.5 == 0 ? (datum.value < 0 ? '-' : '') + format(abs(datum.value), '.1f') : ''","tickColor":{"condition":{"test":"datum.value % 2.5 == 0","value":"#333333"},"value":"transparent"},"gridWidth":{"condition":{"test":"datum.value % 2.5 == 0","value":1.4},"value":0.7}}},"text":{"field":"p"}}}]},
{"width":96,"height":208,"layer":[
 {"transform":[{"filter":{"field":"p","equal":"1-2"}}],"mark":{"type":"line","color":"#000000","strokeWidth":1.3},"encoding":{"x":{"field":"x","type":"quantitative","scale":{"domain":[0.265,2.2],"nice":false,"zero":false},"axis":{"title":null,"values":[0.5,0.75,1,1.25,1.5,1.75,2],"domain":false,"labels":false,"ticks":false,"gridWidth":{"condition":{"test":"datum.value % 0.5 == 0","value":1.4},"value":0.7}}},"y":{"field":"y","type":"quantitative","scale":{"domain":[-5.11,8.62],"nice":false,"zero":false},"axis":{"title":null,"values":[-5,-3.75,-2.5,-1.25,0,1.25,2.5,3.75,5,6.25],"domain":false,"labels":false,"ticks":false,"gridWidth":{"condition":{"test":"datum.value % 2.5 == 0","value":1.4},"value":0.7}}}}},
 {"data":{"values":[{"p":"1-2"}]},"mark":{"type":"rect","fill":"#D9D9D9","stroke":"#333333","strokeWidth":1.1},"encoding":{"x":{"datum":0.265,"axis":{"title":null,"values":[0.5,0.75,1,1.25,1.5,1.75,2],"domain":false,"labels":false,"ticks":false,"gridWidth":{"condition":{"test":"datum.value % 0.5 == 0","value":1.4},"value":0.7}}},"x2":{"datum":2.2},"y":{"datum":7.19,"axis":{"title":null,"values":[-5,-3.75,-2.5,-1.25,0,1.25,2.5,3.75,5,6.25],"domain":false,"labels":false,"ticks":false,"gridWidth":{"condition":{"test":"datum.value % 2.5 == 0","value":1.4},"value":0.7}}},"y2":{"datum":8.62}}},
 {"data":{"values":[{"p":"1-2"}]},"mark":{"type":"text","fontSize":11.7,"color":"#1A1A1A","font":"Liberation Sans","baseline":"middle","align":"center"},"encoding":{"x":{"datum":1.2325,"axis":{"title":null,"values":[0.5,0.75,1,1.25,1.5,1.75,2],"domain":false,"labels":false,"ticks":false,"gridWidth":{"condition":{"test":"datum.value % 0.5 == 0","value":1.4},"value":0.7}}},"y":{"datum":7.9,"axis":{"title":null,"values":[-5,-3.75,-2.5,-1.25,0,1.25,2.5,3.75,5,6.25],"domain":false,"labels":false,"ticks":false,"gridWidth":{"condition":{"test":"datum.value % 2.5 == 0","value":1.4},"value":0.7}}},"text":{"field":"p"}}}]},
{"width":96,"height":208,"layer":[
 {"transform":[{"filter":{"field":"p","equal":"1-3"}}],"mark":{"type":"line","color":"#000000","strokeWidth":1.3},"encoding":{"x":{"field":"x","type":"quantitative","scale":{"domain":[0.265,2.2],"nice":false,"zero":false},"axis":{"title":null,"values":[0.5,0.75,1,1.25,1.5,1.75,2],"domain":false,"labels":false,"ticks":false,"gridWidth":{"condition":{"test":"datum.value % 0.5 == 0","value":1.4},"value":0.7}}},"y":{"field":"y","type":"quantitative","scale":{"domain":[-5.11,8.62],"nice":false,"zero":false},"axis":{"title":null,"values":[-5,-3.75,-2.5,-1.25,0,1.25,2.5,3.75,5,6.25],"domain":false,"labels":false,"ticks":false,"gridWidth":{"condition":{"test":"datum.value % 2.5 == 0","value":1.4},"value":0.7}}}}},
 {"data":{"values":[{"p":"1-3"}]},"mark":{"type":"rect","fill":"#D9D9D9","stroke":"#333333","strokeWidth":1.1},"encoding":{"x":{"datum":0.265,"axis":{"title":null,"values":[0.5,0.75,1,1.25,1.5,1.75,2],"domain":false,"labels":false,"ticks":false,"gridWidth":{"condition":{"test":"datum.value % 0.5 == 0","value":1.4},"value":0.7}}},"x2":{"datum":2.2},"y":{"datum":7.19,"axis":{"title":null,"values":[-5,-3.75,-2.5,-1.25,0,1.25,2.5,3.75,5,6.25],"domain":false,"labels":false,"ticks":false,"gridWidth":{"condition":{"test":"datum.value % 2.5 == 0","value":1.4},"value":0.7}}},"y2":{"datum":8.62}}},
 {"data":{"values":[{"p":"1-3"}]},"mark":{"type":"text","fontSize":11.7,"color":"#1A1A1A","font":"Liberation Sans","baseline":"middle","align":"center"},"encoding":{"x":{"datum":1.2325,"axis":{"title":null,"values":[0.5,0.75,1,1.25,1.5,1.75,2],"domain":false,"labels":false,"ticks":false,"gridWidth":{"condition":{"test":"datum.value % 0.5 == 0","value":1.4},"value":0.7}}},"y":{"datum":7.9,"axis":{"title":null,"values":[-5,-3.75,-2.5,-1.25,0,1.25,2.5,3.75,5,6.25],"domain":false,"labels":false,"ticks":false,"gridWidth":{"condition":{"test":"datum.value % 2.5 == 0","value":1.4},"value":0.7}}},"text":{"field":"p"}}}]},
{"width":96,"height":208,"layer":[
 {"transform":[{"filter":{"field":"p","equal":"1-4"}}],"mark":{"type":"line","color":"#000000","strokeWidth":1.3},"encoding":{"x":{"field":"x","type":"quantitative","scale":{"domain":[0.265,2.2],"nice":false,"zero":false},"axis":{"title":null,"values":[0.5,0.75,1,1.25,1.5,1.75,2],"domain":false,"labels":false,"ticks":false,"gridWidth":{"condition":{"test":"datum.value % 0.5 == 0","value":1.4},"value":0.7}}},"y":{"field":"y","type":"quantitative","scale":{"domain":[-5.11,8.62],"nice":false,"zero":false},"axis":{"title":null,"values":[-5,-3.75,-2.5,-1.25,0,1.25,2.5,3.75,5,6.25],"domain":false,"labels":false,"ticks":false,"gridWidth":{"condition":{"test":"datum.value % 2.5 == 0","value":1.4},"value":0.7}}}}},
 {"data":{"values":[{"p":"1-4"}]},"mark":{"type":"rect","fill":"#D9D9D9","stroke":"#333333","strokeWidth":1.1},"encoding":{"x":{"datum":0.265,"axis":{"title":null,"values":[0.5,0.75,1,1.25,1.5,1.75,2],"domain":false,"labels":false,"ticks":false,"gridWidth":{"condition":{"test":"datum.value % 0.5 == 0","value":1.4},"value":0.7}}},"x2":{"datum":2.2},"y":{"datum":7.19,"axis":{"title":null,"values":[-5,-3.75,-2.5,-1.25,0,1.25,2.5,3.75,5,6.25],"domain":false,"labels":false,"ticks":false,"gridWidth":{"condition":{"test":"datum.value % 2.5 == 0","value":1.4},"value":0.7}}},"y2":{"datum":8.62}}},
 {"data":{"values":[{"p":"1-4"}]},"mark":{"type":"text","fontSize":11.7,"color":"#1A1A1A","font":"Liberation Sans","baseline":"middle","align":"center"},"encoding":{"x":{"datum":1.2325,"axis":{"title":null,"values":[0.5,0.75,1,1.25,1.5,1.75,2],"domain":false,"labels":false,"ticks":false,"gridWidth":{"condition":{"test":"datum.value % 0.5 == 0","value":1.4},"value":0.7}}},"y":{"datum":7.9,"axis":{"title":null,"values":[-5,-3.75,-2.5,-1.25,0,1.25,2.5,3.75,5,6.25],"domain":false,"labels":false,"ticks":false,"gridWidth":{"condition":{"test":"datum.value % 2.5 == 0","value":1.4},"value":0.7}}},"text":{"field":"p"}}}]},
{"width":96,"height":208,"layer":[
 {"transform":[{"filter":{"field":"p","equal":"1-5"}}],"mark":{"type":"line","color":"#000000","strokeWidth":1.3},"encoding":{"x":{"field":"x","type":"quantitative","scale":{"domain":[0.265,2.2],"nice":false,"zero":false},"axis":{"title":null,"values":[0.5,0.75,1,1.25,1.5,1.75,2],"domain":false,"labels":false,"ticks":false,"gridWidth":{"condition":{"test":"datum.value % 0.5 == 0","value":1.4},"value":0.7}}},"y":{"field":"y","type":"quantitative","scale":{"domain":[-5.11,8.62],"nice":false,"zero":false},"axis":{"title":null,"values":[-5,-3.75,-2.5,-1.25,0,1.25,2.5,3.75,5,6.25],"domain":false,"labels":false,"ticks":false,"gridWidth":{"condition":{"test":"datum.value % 2.5 == 0","value":1.4},"value":0.7}}}}},
 {"data":{"values":[{"p":"1-5"}]},"mark":{"type":"rect","fill":"#D9D9D9","stroke":"#333333","strokeWidth":1.1},"encoding":{"x":{"datum":0.265,"axis":{"title":null,"values":[0.5,0.75,1,1.25,1.5,1.75,2],"domain":false,"labels":false,"ticks":false,"gridWidth":{"condition":{"test":"datum.value % 0.5 == 0","value":1.4},"value":0.7}}},"x2":{"datum":2.2},"y":{"datum":7.19,"axis":{"title":null,"values":[-5,-3.75,-2.5,-1.25,0,1.25,2.5,3.75,5,6.25],"domain":false,"labels":false,"ticks":false,"gridWidth":{"condition":{"test":"datum.value % 2.5 == 0","value":1.4},"value":0.7}}},"y2":{"datum":8.62}}},
 {"data":{"values":[{"p":"1-5"}]},"mark":{"type":"text","fontSize":11.7,"color":"#1A1A1A","font":"Liberation Sans","baseline":"middle","align":"center"},"encoding":{"x":{"datum":1.2325,"axis":{"title":null,"values":[0.5,0.75,1,1.25,1.5,1.75,2],"domain":false,"labels":false,"ticks":false,"gridWidth":{"condition":{"test":"datum.value % 0.5 == 0","value":1.4},"value":0.7}}},"y":{"datum":7.9,"axis":{"title":null,"values":[-5,-3.75,-2.5,-1.25,0,1.25,2.5,3.75,5,6.25],"domain":false,"labels":false,"ticks":false,"gridWidth":{"condition":{"test":"datum.value % 2.5 == 0","value":1.4},"value":0.7}}},"text":{"field":"p"}}}]},
{"width":96,"height":208,"layer":[
 {"transform":[{"filter":{"field":"p","equal":"1-6"}}],"mark":{"type":"line","color":"#000000","strokeWidth":1.3},"encoding":{"x":{"field":"x","type":"quantitative","scale":{"domain":[0.265,2.2],"nice":false,"zero":false},"axis":{"title":null,"values":[0.5,0.75,1,1.25,1.5,1.75,2],"domain":false,"labels":false,"ticks":false,"gridWidth":{"condition":{"test":"datum.value % 0.5 == 0","value":1.4},"value":0.7}}},"y":{"field":"y","type":"quantitative","scale":{"domain":[-5.11,8.62],"nice":false,"zero":false},"axis":{"title":null,"values":[-5,-3.75,-2.5,-1.25,0,1.25,2.5,3.75,5,6.25],"domain":false,"labels":false,"ticks":false,"gridWidth":{"condition":{"test":"datum.value % 2.5 == 0","value":1.4},"value":0.7}}}}},
 {"data":{"values":[{"p":"1-6"}]},"mark":{"type":"rect","fill":"#D9D9D9","stroke":"#333333","strokeWidth":1.1},"encoding":{"x":{"datum":0.265,"axis":{"title":null,"values":[0.5,0.75,1,1.25,1.5,1.75,2],"domain":false,"labels":false,"ticks":false,"gridWidth":{"condition":{"test":"datum.value % 0.5 == 0","value":1.4},"value":0.7}}},"x2":{"datum":2.2},"y":{"datum":7.19,"axis":{"title":null,"values":[-5,-3.75,-2.5,-1.25,0,1.25,2.5,3.75,5,6.25],"domain":false,"labels":false,"ticks":false,"gridWidth":{"condition":{"test":"datum.value % 2.5 == 0","value":1.4},"value":0.7}}},"y2":{"datum":8.62}}},
 {"data":{"values":[{"p":"1-6"}]},"mark":{"type":"text","fontSize":11.7,"color":"#1A1A1A","font":"Liberation Sans","baseline":"middle","align":"center"},"encoding":{"x":{"datum":1.2325,"axis":{"title":null,"values":[0.5,0.75,1,1.25,1.5,1.75,2],"domain":false,"labels":false,"ticks":false,"gridWidth":{"condition":{"test":"datum.value % 0.5 == 0","value":1.4},"value":0.7}}},"y":{"datum":7.9,"axis":{"title":null,"values":[-5,-3.75,-2.5,-1.25,0,1.25,2.5,3.75,5,6.25],"domain":false,"labels":false,"ticks":false,"gridWidth":{"condition":{"test":"datum.value % 2.5 == 0","value":1.4},"value":0.7}}},"text":{"field":"p"}}}]}
]},
{"spacing": 3, "title": {"text": "Length in mm", "orient": "bottom", "anchor": "middle", "fontSize": 14.5, "fontWeight": "normal", "font": "Liberation Sans", "color": "#000000", "offset": 8, "dx": 14}, "hconcat": [
{"width":96,"height":208,"layer":[
 {"transform":[{"filter":{"field":"p","equal":"2-2"}}],"mark":{"type":"line","color":"#000000","strokeWidth":1.3},"encoding":{"x":{"field":"x","type":"quantitative","scale":{"domain":[0.265,2.2],"nice":false,"zero":false},"axis":{"title":null,"values":[0.5,0.75,1,1.25,1.5,1.75,2],"domain":false,"labelFlush":false,"labelOverlap":false,"labelExpr":"datum.value % 0.5 == 0 ? format(datum.value, '.1f') : ''","tickColor":{"condition":{"test":"datum.value % 0.5 == 0","value":"#333333"},"value":"transparent"},"gridWidth":{"condition":{"test":"datum.value % 0.5 == 0","value":1.4},"value":0.7}}},"y":{"field":"y","type":"quantitative","scale":{"domain":[-5.11,8.62],"nice":false,"zero":false},"axis":{"title":null,"values":[-5,-3.75,-2.5,-1.25,0,1.25,2.5,3.75,5,6.25],"domain":false,"labelOverlap":false,"labelFlush":false,"labelExpr":"datum.value % 2.5 == 0 ? (datum.value < 0 ? '-' : '') + format(abs(datum.value), '.1f') : ''","tickColor":{"condition":{"test":"datum.value % 2.5 == 0","value":"#333333"},"value":"transparent"},"gridWidth":{"condition":{"test":"datum.value % 2.5 == 0","value":1.4},"value":0.7}}}}},
 {"data":{"values":[{"p":"2-2"}]},"mark":{"type":"rect","fill":"#D9D9D9","stroke":"#333333","strokeWidth":1.1},"encoding":{"x":{"datum":0.265,"axis":{"title":null,"values":[0.5,0.75,1,1.25,1.5,1.75,2],"domain":false,"labelFlush":false,"labelOverlap":false,"labelExpr":"datum.value % 0.5 == 0 ? format(datum.value, '.1f') : ''","tickColor":{"condition":{"test":"datum.value % 0.5 == 0","value":"#333333"},"value":"transparent"},"gridWidth":{"condition":{"test":"datum.value % 0.5 == 0","value":1.4},"value":0.7}}},"x2":{"datum":2.2},"y":{"datum":7.19,"axis":{"title":null,"values":[-5,-3.75,-2.5,-1.25,0,1.25,2.5,3.75,5,6.25],"domain":false,"labelOverlap":false,"labelFlush":false,"labelExpr":"datum.value % 2.5 == 0 ? (datum.value < 0 ? '-' : '') + format(abs(datum.value), '.1f') : ''","tickColor":{"condition":{"test":"datum.value % 2.5 == 0","value":"#333333"},"value":"transparent"},"gridWidth":{"condition":{"test":"datum.value % 2.5 == 0","value":1.4},"value":0.7}}},"y2":{"datum":8.62}}},
 {"data":{"values":[{"p":"2-2"}]},"mark":{"type":"text","fontSize":11.7,"color":"#1A1A1A","font":"Liberation Sans","baseline":"middle","align":"center"},"encoding":{"x":{"datum":1.2325,"axis":{"title":null,"values":[0.5,0.75,1,1.25,1.5,1.75,2],"domain":false,"labelFlush":false,"labelOverlap":false,"labelExpr":"datum.value % 0.5 == 0 ? format(datum.value, '.1f') : ''","tickColor":{"condition":{"test":"datum.value % 0.5 == 0","value":"#333333"},"value":"transparent"},"gridWidth":{"condition":{"test":"datum.value % 0.5 == 0","value":1.4},"value":0.7}}},"y":{"datum":7.9,"axis":{"title":null,"values":[-5,-3.75,-2.5,-1.25,0,1.25,2.5,3.75,5,6.25],"domain":false,"labelOverlap":false,"labelFlush":false,"labelExpr":"datum.value % 2.5 == 0 ? (datum.value < 0 ? '-' : '') + format(abs(datum.value), '.1f') : ''","tickColor":{"condition":{"test":"datum.value % 2.5 == 0","value":"#333333"},"value":"transparent"},"gridWidth":{"condition":{"test":"datum.value % 2.5 == 0","value":1.4},"value":0.7}}},"text":{"field":"p"}}}]},
{"width":96,"height":208,"layer":[
 {"transform":[{"filter":{"field":"p","equal":"2-3"}}],"mark":{"type":"line","color":"#000000","strokeWidth":1.3},"encoding":{"x":{"field":"x","type":"quantitative","scale":{"domain":[0.265,2.2],"nice":false,"zero":false},"axis":{"title":null,"values":[0.5,0.75,1,1.25,1.5,1.75,2],"domain":false,"labelFlush":false,"labelOverlap":false,"labelExpr":"datum.value % 0.5 == 0 ? format(datum.value, '.1f') : ''","tickColor":{"condition":{"test":"datum.value % 0.5 == 0","value":"#333333"},"value":"transparent"},"gridWidth":{"condition":{"test":"datum.value % 0.5 == 0","value":1.4},"value":0.7}}},"y":{"field":"y","type":"quantitative","scale":{"domain":[-5.11,8.62],"nice":false,"zero":false},"axis":{"title":null,"values":[-5,-3.75,-2.5,-1.25,0,1.25,2.5,3.75,5,6.25],"domain":false,"labels":false,"ticks":false,"gridWidth":{"condition":{"test":"datum.value % 2.5 == 0","value":1.4},"value":0.7}}}}},
 {"data":{"values":[{"p":"2-3"}]},"mark":{"type":"rect","fill":"#D9D9D9","stroke":"#333333","strokeWidth":1.1},"encoding":{"x":{"datum":0.265,"axis":{"title":null,"values":[0.5,0.75,1,1.25,1.5,1.75,2],"domain":false,"labelFlush":false,"labelOverlap":false,"labelExpr":"datum.value % 0.5 == 0 ? format(datum.value, '.1f') : ''","tickColor":{"condition":{"test":"datum.value % 0.5 == 0","value":"#333333"},"value":"transparent"},"gridWidth":{"condition":{"test":"datum.value % 0.5 == 0","value":1.4},"value":0.7}}},"x2":{"datum":2.2},"y":{"datum":7.19,"axis":{"title":null,"values":[-5,-3.75,-2.5,-1.25,0,1.25,2.5,3.75,5,6.25],"domain":false,"labels":false,"ticks":false,"gridWidth":{"condition":{"test":"datum.value % 2.5 == 0","value":1.4},"value":0.7}}},"y2":{"datum":8.62}}},
 {"data":{"values":[{"p":"2-3"}]},"mark":{"type":"text","fontSize":11.7,"color":"#1A1A1A","font":"Liberation Sans","baseline":"middle","align":"center"},"encoding":{"x":{"datum":1.2325,"axis":{"title":null,"values":[0.5,0.75,1,1.25,1.5,1.75,2],"domain":false,"labelFlush":false,"labelOverlap":false,"labelExpr":"datum.value % 0.5 == 0 ? format(datum.value, '.1f') : ''","tickColor":{"condition":{"test":"datum.value % 0.5 == 0","value":"#333333"},"value":"transparent"},"gridWidth":{"condition":{"test":"datum.value % 0.5 == 0","value":1.4},"value":0.7}}},"y":{"datum":7.9,"axis":{"title":null,"values":[-5,-3.75,-2.5,-1.25,0,1.25,2.5,3.75,5,6.25],"domain":false,"labels":false,"ticks":false,"gridWidth":{"condition":{"test":"datum.value % 2.5 == 0","value":1.4},"value":0.7}}},"text":{"field":"p"}}}]},
{"width":96,"height":208,"layer":[
 {"transform":[{"filter":{"field":"p","equal":"2-4"}}],"mark":{"type":"line","color":"#000000","strokeWidth":1.3},"encoding":{"x":{"field":"x","type":"quantitative","scale":{"domain":[0.265,2.2],"nice":false,"zero":false},"axis":{"title":null,"values":[0.5,0.75,1,1.25,1.5,1.75,2],"domain":false,"labelFlush":false,"labelOverlap":false,"labelExpr":"datum.value % 0.5 == 0 ? format(datum.value, '.1f') : ''","tickColor":{"condition":{"test":"datum.value % 0.5 == 0","value":"#333333"},"value":"transparent"},"gridWidth":{"condition":{"test":"datum.value % 0.5 == 0","value":1.4},"value":0.7}}},"y":{"field":"y","type":"quantitative","scale":{"domain":[-5.11,8.62],"nice":false,"zero":false},"axis":{"title":null,"values":[-5,-3.75,-2.5,-1.25,0,1.25,2.5,3.75,5,6.25],"domain":false,"labels":false,"ticks":false,"gridWidth":{"condition":{"test":"datum.value % 2.5 == 0","value":1.4},"value":0.7}}}}},
 {"data":{"values":[{"p":"2-4"}]},"mark":{"type":"rect","fill":"#D9D9D9","stroke":"#333333","strokeWidth":1.1},"encoding":{"x":{"datum":0.265,"axis":{"title":null,"values":[0.5,0.75,1,1.25,1.5,1.75,2],"domain":false,"labelFlush":false,"labelOverlap":false,"labelExpr":"datum.value % 0.5 == 0 ? format(datum.value, '.1f') : ''","tickColor":{"condition":{"test":"datum.value % 0.5 == 0","value":"#333333"},"value":"transparent"},"gridWidth":{"condition":{"test":"datum.value % 0.5 == 0","value":1.4},"value":0.7}}},"x2":{"datum":2.2},"y":{"datum":7.19,"axis":{"title":null,"values":[-5,-3.75,-2.5,-1.25,0,1.25,2.5,3.75,5,6.25],"domain":false,"labels":false,"ticks":false,"gridWidth":{"condition":{"test":"datum.value % 2.5 == 0","value":1.4},"value":0.7}}},"y2":{"datum":8.62}}},
 {"data":{"values":[{"p":"2-4"}]},"mark":{"type":"text","fontSize":11.7,"color":"#1A1A1A","font":"Liberation Sans","baseline":"middle","align":"center"},"encoding":{"x":{"datum":1.2325,"axis":{"title":null,"values":[0.5,0.75,1,1.25,1.5,1.75,2],"domain":false,"labelFlush":false,"labelOverlap":false,"labelExpr":"datum.value % 0.5 == 0 ? format(datum.value, '.1f') : ''","tickColor":{"condition":{"test":"datum.value % 0.5 == 0","value":"#333333"},"value":"transparent"},"gridWidth":{"condition":{"test":"datum.value % 0.5 == 0","value":1.4},"value":0.7}}},"y":{"datum":7.9,"axis":{"title":null,"values":[-5,-3.75,-2.5,-1.25,0,1.25,2.5,3.75,5,6.25],"domain":false,"labels":false,"ticks":false,"gridWidth":{"condition":{"test":"datum.value % 2.5 == 0","value":1.4},"value":0.7}}},"text":{"field":"p"}}}]},
{"width":96,"height":208,"layer":[
 {"transform":[{"filter":{"field":"p","equal":"2-5"}}],"mark":{"type":"line","color":"#000000","strokeWidth":1.3},"encoding":{"x":{"field":"x","type":"quantitative","scale":{"domain":[0.265,2.2],"nice":false,"zero":false},"axis":{"title":null,"values":[0.5,0.75,1,1.25,1.5,1.75,2],"domain":false,"labelFlush":false,"labelOverlap":false,"labelExpr":"datum.value % 0.5 == 0 ? format(datum.value, '.1f') : ''","tickColor":{"condition":{"test":"datum.value % 0.5 == 0","value":"#333333"},"value":"transparent"},"gridWidth":{"condition":{"test":"datum.value % 0.5 == 0","value":1.4},"value":0.7}}},"y":{"field":"y","type":"quantitative","scale":{"domain":[-5.11,8.62],"nice":false,"zero":false},"axis":{"title":null,"values":[-5,-3.75,-2.5,-1.25,0,1.25,2.5,3.75,5,6.25],"domain":false,"labels":false,"ticks":false,"gridWidth":{"condition":{"test":"datum.value % 2.5 == 0","value":1.4},"value":0.7}}}}},
 {"data":{"values":[{"p":"2-5"}]},"mark":{"type":"rect","fill":"#D9D9D9","stroke":"#333333","strokeWidth":1.1},"encoding":{"x":{"datum":0.265,"axis":{"title":null,"values":[0.5,0.75,1,1.25,1.5,1.75,2],"domain":false,"labelFlush":false,"labelOverlap":false,"labelExpr":"datum.value % 0.5 == 0 ? format(datum.value, '.1f') : ''","tickColor":{"condition":{"test":"datum.value % 0.5 == 0","value":"#333333"},"value":"transparent"},"gridWidth":{"condition":{"test":"datum.value % 0.5 == 0","value":1.4},"value":0.7}}},"x2":{"datum":2.2},"y":{"datum":7.19,"axis":{"title":null,"values":[-5,-3.75,-2.5,-1.25,0,1.25,2.5,3.75,5,6.25],"domain":false,"labels":false,"ticks":false,"gridWidth":{"condition":{"test":"datum.value % 2.5 == 0","value":1.4},"value":0.7}}},"y2":{"datum":8.62}}},
 {"data":{"values":[{"p":"2-5"}]},"mark":{"type":"text","fontSize":11.7,"color":"#1A1A1A","font":"Liberation Sans","baseline":"middle","align":"center"},"encoding":{"x":{"datum":1.2325,"axis":{"title":null,"values":[0.5,0.75,1,1.25,1.5,1.75,2],"domain":false,"labelFlush":false,"labelOverlap":false,"labelExpr":"datum.value % 0.5 == 0 ? format(datum.value, '.1f') : ''","tickColor":{"condition":{"test":"datum.value % 0.5 == 0","value":"#333333"},"value":"transparent"},"gridWidth":{"condition":{"test":"datum.value % 0.5 == 0","value":1.4},"value":0.7}}},"y":{"datum":7.9,"axis":{"title":null,"values":[-5,-3.75,-2.5,-1.25,0,1.25,2.5,3.75,5,6.25],"domain":false,"labels":false,"ticks":false,"gridWidth":{"condition":{"test":"datum.value % 2.5 == 0","value":1.4},"value":0.7}}},"text":{"field":"p"}}}]},
{"width":96,"height":208,"layer":[
 {"transform":[{"filter":{"field":"p","equal":"2-6"}}],"mark":{"type":"line","color":"#000000","strokeWidth":1.3},"encoding":{"x":{"field":"x","type":"quantitative","scale":{"domain":[0.265,2.2],"nice":false,"zero":false},"axis":{"title":null,"values":[0.5,0.75,1,1.25,1.5,1.75,2],"domain":false,"labelFlush":false,"labelOverlap":false,"labelExpr":"datum.value % 0.5 == 0 ? format(datum.value, '.1f') : ''","tickColor":{"condition":{"test":"datum.value % 0.5 == 0","value":"#333333"},"value":"transparent"},"gridWidth":{"condition":{"test":"datum.value % 0.5 == 0","value":1.4},"value":0.7}}},"y":{"field":"y","type":"quantitative","scale":{"domain":[-5.11,8.62],"nice":false,"zero":false},"axis":{"title":null,"values":[-5,-3.75,-2.5,-1.25,0,1.25,2.5,3.75,5,6.25],"domain":false,"labels":false,"ticks":false,"gridWidth":{"condition":{"test":"datum.value % 2.5 == 0","value":1.4},"value":0.7}}}}},
 {"data":{"values":[{"p":"2-6"}]},"mark":{"type":"rect","fill":"#D9D9D9","stroke":"#333333","strokeWidth":1.1},"encoding":{"x":{"datum":0.265,"axis":{"title":null,"values":[0.5,0.75,1,1.25,1.5,1.75,2],"domain":false,"labelFlush":false,"labelOverlap":false,"labelExpr":"datum.value % 0.5 == 0 ? format(datum.value, '.1f') : ''","tickColor":{"condition":{"test":"datum.value % 0.5 == 0","value":"#333333"},"value":"transparent"},"gridWidth":{"condition":{"test":"datum.value % 0.5 == 0","value":1.4},"value":0.7}}},"x2":{"datum":2.2},"y":{"datum":7.19,"axis":{"title":null,"values":[-5,-3.75,-2.5,-1.25,0,1.25,2.5,3.75,5,6.25],"domain":false,"labels":false,"ticks":false,"gridWidth":{"condition":{"test":"datum.value % 2.5 == 0","value":1.4},"value":0.7}}},"y2":{"datum":8.62}}},
 {"data":{"values":[{"p":"2-6"}]},"mark":{"type":"text","fontSize":11.7,"color":"#1A1A1A","font":"Liberation Sans","baseline":"middle","align":"center"},"encoding":{"x":{"datum":1.2325,"axis":{"title":null,"values":[0.5,0.75,1,1.25,1.5,1.75,2],"domain":false,"labelFlush":false,"labelOverlap":false,"labelExpr":"datum.value % 0.5 == 0 ? format(datum.value, '.1f') : ''","tickColor":{"condition":{"test":"datum.value % 0.5 == 0","value":"#333333"},"value":"transparent"},"gridWidth":{"condition":{"test":"datum.value % 0.5 == 0","value":1.4},"value":0.7}}},"y":{"datum":7.9,"axis":{"title":null,"values":[-5,-3.75,-2.5,-1.25,0,1.25,2.5,3.75,5,6.25],"domain":false,"labels":false,"ticks":false,"gridWidth":{"condition":{"test":"datum.value % 2.5 == 0","value":1.4},"value":0.7}}},"text":{"field":"p"}}}]},
{"width":96,"height":208,"layer":[
 {"transform":[{"filter":{"field":"p","equal":"2-1"}}],"mark":{"type":"line","color":"#000000","strokeWidth":1.3},"encoding":{"x":{"field":"x","type":"quantitative","scale":{"domain":[0.265,2.2],"nice":false,"zero":false},"axis":{"title":null,"values":[0.5,0.75,1,1.25,1.5,1.75,2],"domain":false,"labelFlush":false,"labelOverlap":false,"labelExpr":"datum.value % 0.5 == 0 ? format(datum.value, '.1f') : ''","tickColor":{"condition":{"test":"datum.value % 0.5 == 0","value":"#333333"},"value":"transparent"},"gridWidth":{"condition":{"test":"datum.value % 0.5 == 0","value":1.4},"value":0.7}}},"y":{"field":"y","type":"quantitative","scale":{"domain":[-5.11,8.62],"nice":false,"zero":false},"axis":{"title":null,"values":[-5,-3.75,-2.5,-1.25,0,1.25,2.5,3.75,5,6.25],"domain":false,"labels":false,"ticks":false,"gridWidth":{"condition":{"test":"datum.value % 2.5 == 0","value":1.4},"value":0.7}}}}},
 {"data":{"values":[{"p":"2-1"}]},"mark":{"type":"rect","fill":"#D9D9D9","stroke":"#333333","strokeWidth":1.1},"encoding":{"x":{"datum":0.265,"axis":{"title":null,"values":[0.5,0.75,1,1.25,1.5,1.75,2],"domain":false,"labelFlush":false,"labelOverlap":false,"labelExpr":"datum.value % 0.5 == 0 ? format(datum.value, '.1f') : ''","tickColor":{"condition":{"test":"datum.value % 0.5 == 0","value":"#333333"},"value":"transparent"},"gridWidth":{"condition":{"test":"datum.value % 0.5 == 0","value":1.4},"value":0.7}}},"x2":{"datum":2.2},"y":{"datum":7.19,"axis":{"title":null,"values":[-5,-3.75,-2.5,-1.25,0,1.25,2.5,3.75,5,6.25],"domain":false,"labels":false,"ticks":false,"gridWidth":{"condition":{"test":"datum.value % 2.5 == 0","value":1.4},"value":0.7}}},"y2":{"datum":8.62}}},
 {"data":{"values":[{"p":"2-1"}]},"mark":{"type":"text","fontSize":11.7,"color":"#1A1A1A","font":"Liberation Sans","baseline":"middle","align":"center"},"encoding":{"x":{"datum":1.2325,"axis":{"title":null,"values":[0.5,0.75,1,1.25,1.5,1.75,2],"domain":false,"labelFlush":false,"labelOverlap":false,"labelExpr":"datum.value % 0.5 == 0 ? format(datum.value, '.1f') : ''","tickColor":{"condition":{"test":"datum.value % 0.5 == 0","value":"#333333"},"value":"transparent"},"gridWidth":{"condition":{"test":"datum.value % 0.5 == 0","value":1.4},"value":0.7}}},"y":{"datum":7.9,"axis":{"title":null,"values":[-5,-3.75,-2.5,-1.25,0,1.25,2.5,3.75,5,6.25],"domain":false,"labels":false,"ticks":false,"gridWidth":{"condition":{"test":"datum.value % 2.5 == 0","value":1.4},"value":0.7}}},"text":{"field":"p"}}}]}
]}
],
"config": {
  "font": "Liberation Sans",
  "view": {"stroke": "#333333", "strokeWidth": 1.1},
  "axis": {"gridColor": "#EBEBEB", "tickSize": 3.7, "tickWidth": 1.1, "labelPadding": 2, "labelFontSize": 11.7, "labelColor": "#4D4D4D", "labelFont": "Liberation Sans"},
  "axisX": {"labelPadding": 0.5}
}
}
